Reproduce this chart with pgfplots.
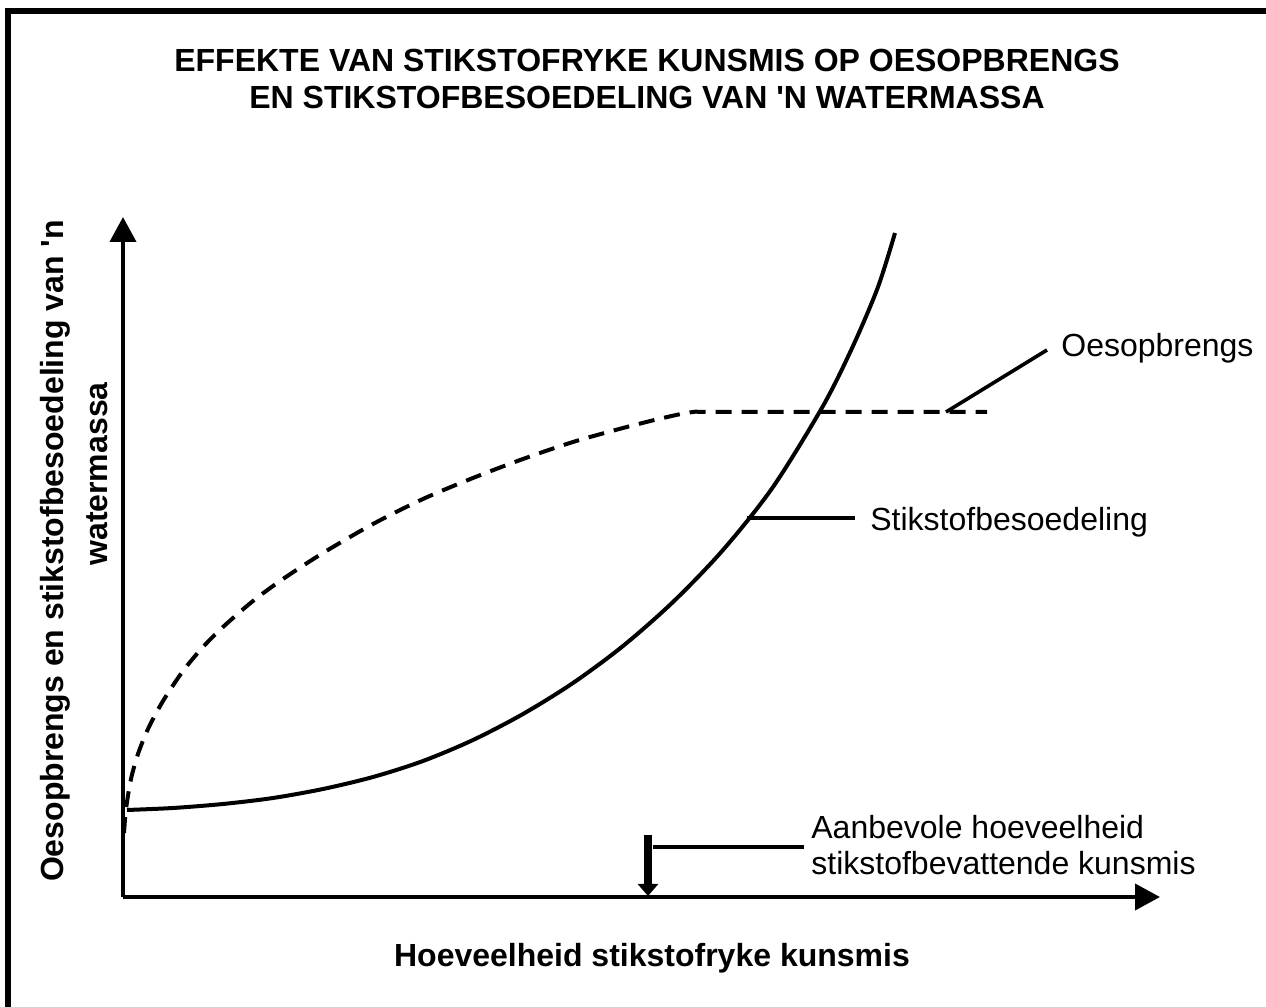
\documentclass[border=0pt]{standalone}
\usepackage{pgfplots}
\pgfplotsset{compat=1.18}
\usepackage{fontspec}
\setmainfont{Liberation Sans}[Ligatures=TeXOff]
\usetikzlibrary{arrows.meta}
\begin{document}
\begin{tikzpicture}
\useasboundingbox (0,0) rectangle (633pt,503.5pt);
% frame (top and left edges)
\draw[line width=2.6pt] (633pt,498pt) -- (4pt,498pt) -- (4pt,0pt);
\begin{axis}[
  at={(61.5pt,55pt)}, anchor=south west,
  x=0.5pt, y=0.5pt,
  xmin=0, xmax=1037, ymin=0, ymax=680,
  axis lines=left,
  axis line style={line width=2pt, -{Triangle[width=13pt,length=12.5pt]}},
  xtick=\empty, ytick=\empty,
  clip=false,
]
% Oesopbrengs (dashed)
\addplot[black, line width=2pt, dash pattern=on 8pt off 5pt, smooth] coordinates {
(1,64) (3,88) (8,118) (15,143) (25,168) (40,196) (60,226) (80,250) (100,270)
(130,296) (160,318) (200,344) (250,373) (300,398) (350,419) (400,438)
(450,455) (500,469) (540,479) (570,485) (600,485) (864,485)
};
% Stikstofbesoedeling (solid)
\addplot[black, line width=2pt, smooth] coordinates {
(4,87) (50,89) (100,93) (150,99) (200,108) (250,120) (300,136) (350,157)
(400,183) (450,214) (500,251) (550,295) (600,347) (650,410) (700,491)
(730,551) (755,610) (772,664)
};
% leader lines
\draw[line width=1.8pt] (axis cs:823,485) -- (axis cs:924,547);
\draw[line width=1.8pt] (axis cs:624,379) -- (axis cs:732,379);
\draw[line width=1.8pt] (axis cs:530,50) -- (axis cs:681,50);
\draw[line width=4pt, -{Triangle[width=10pt,length=6pt]}] (axis cs:525,62) -- (axis cs:525,1);
\end{axis}
% title
\node[align=center, inner sep=0pt, font=\bfseries\fontsize{16}{18.5}\selectfont]
  at (323.5pt,464.25pt) {EFFEKTE VAN STIKSTOFRYKE KUNSMIS OP OESOPBRENGS\\EN STIKSTOFBESOEDELING VAN 'N WATERMASSA};
% y label
\node[rotate=90, inner sep=0pt, font=\bfseries\fontsize{16}{18.5}\selectfont]
  at (27.5pt,228pt) {Oesopbrengs en stikstofbesoedeling van 'n};
\node[rotate=90, inner sep=0pt, font=\bfseries\fontsize{16}{18.5}\selectfont]
  at (48.5pt,266.5pt) {watermassa};
% x label
\node[inner sep=0pt, font=\bfseries\fontsize{16}{18.5}\selectfont]
  at (326pt,24.5pt) {Hoeveelheid stikstofryke kunsmis};
% annotations
\node[anchor=west, inner sep=0pt, font=\fontsize{16}{18}\selectfont]
  at (530.5pt,329.5pt) {Oesopbrengs};
\node[anchor=west, inner sep=0pt, font=\fontsize{16}{18}\selectfont]
  at (435pt,242.5pt) {Stikstofbesoedeling};
\node[anchor=west, align=left, inner sep=0pt, font=\fontsize{16}{18}\selectfont]
  at (405.5pt,81pt) {Aanbevole hoeveelheid\\stikstofbevattende kunsmis};
\end{tikzpicture}
\end{document}
